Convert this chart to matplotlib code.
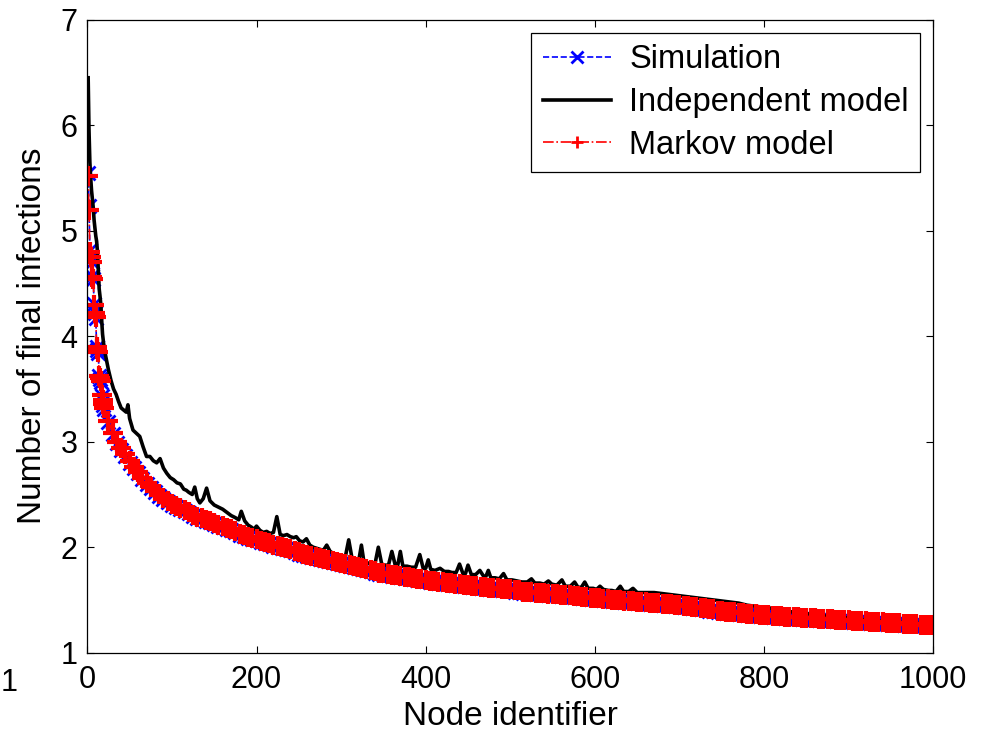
#################################
# Final infections per node: simulation vs. independent / Markov model
#################################
import numpy as np
import matplotlib
matplotlib.use('Agg')
import matplotlib.pyplot as plt

plt.rcParams['font.family'] = ['Liberation Sans', 'DejaVu Sans']

####################### DATA #######################
# nodes sorted by number of final infections
model_nodes = np.concatenate([np.arange(1, 21), np.arange(25, 1001, 5)])

markov_vals = [
    5.52, 5.20, 4.80, 4.75, 4.70, 4.56, 4.54, 4.30, 4.22, 4.18,
    3.90, 3.88, 3.85, 3.62, 3.60, 3.58, 3.44, 3.40, 3.36, 3.32,
    3.20, 3.08, 3.00, 2.94, 2.88, 2.82, 2.76, 2.71, 2.66, 2.61,
    2.57, 2.53, 2.50, 2.47, 2.44, 2.41, 2.39, 2.37, 2.35, 2.33,
    2.31, 2.29, 2.28, 2.26, 2.25, 2.23, 2.21, 2.20, 2.18, 2.17,
    2.15, 2.13, 2.12, 2.10, 2.09, 2.08, 2.06, 2.05, 2.04, 2.02,
    2.01, 2.00, 1.99, 1.98, 1.96, 1.95, 1.94, 1.93, 1.92, 1.91,
    1.90, 1.89, 1.88, 1.87, 1.86, 1.85, 1.84, 1.83, 1.82, 1.81,
    1.80, 1.79, 1.78, 1.77, 1.76, 1.76, 1.75, 1.74, 1.74, 1.73,
    1.72, 1.72, 1.71, 1.70, 1.70, 1.69, 1.68, 1.68, 1.67, 1.67,
    1.66, 1.66, 1.65, 1.65, 1.64, 1.64, 1.63, 1.63, 1.62, 1.62,
    1.61, 1.61, 1.61, 1.60, 1.60, 1.60, 1.59, 1.59, 1.58, 1.58,
    1.58, 1.57, 1.57, 1.57, 1.56, 1.56, 1.56, 1.55, 1.55, 1.55,
    1.54, 1.54, 1.53, 1.53, 1.52, 1.52, 1.52, 1.51, 1.51, 1.50,
    1.50, 1.50, 1.49, 1.49, 1.49, 1.48, 1.48, 1.48, 1.47, 1.47,
    1.47, 1.46, 1.46, 1.46, 1.45, 1.45, 1.44, 1.44, 1.43, 1.43,
    1.42, 1.42, 1.41, 1.41, 1.40, 1.40, 1.39, 1.39, 1.39, 1.38,
    1.38, 1.37, 1.37, 1.37, 1.36, 1.36, 1.36, 1.35, 1.35, 1.35,
    1.34, 1.34, 1.34, 1.34, 1.33, 1.33, 1.33, 1.33, 1.32, 1.32,
    1.32, 1.32, 1.31, 1.31, 1.31, 1.31, 1.30, 1.30, 1.30, 1.30,
    1.29, 1.29, 1.29, 1.29, 1.28, 1.28, 1.28, 1.28, 1.27, 1.27,
    1.27, 1.27, 1.26, 1.26, 1.26, 1.26]

sim_vals = [
    5.55, 5.23, 4.82, 4.76, 4.70, 4.57, 4.54, 4.31, 4.22, 4.17,
    3.90, 3.87, 3.84, 3.62, 3.59, 3.57, 3.43, 3.39, 3.35, 3.31,
    3.19, 3.07, 2.99, 2.92, 2.86, 2.80, 2.75, 2.70, 2.65, 2.60,
    2.56, 2.52, 2.49, 2.46, 2.43, 2.40, 2.38, 2.36, 2.34, 2.32,
    2.30, 2.28, 2.27, 2.25, 2.24, 2.22, 2.20, 2.19, 2.17, 2.16,
    2.14, 2.12, 2.11, 2.09, 2.08, 2.07, 2.05, 2.04, 2.03, 2.01,
    2.00, 1.99, 1.98, 1.97, 1.95, 1.94, 1.93, 1.92, 1.91, 1.90,
    1.89, 1.88, 1.87, 1.86, 1.85, 1.84, 1.83, 1.82, 1.81, 1.80,
    1.79, 1.78, 1.77, 1.76, 1.75, 1.75, 1.74, 1.73, 1.73, 1.72,
    1.71, 1.71, 1.70, 1.69, 1.69, 1.68, 1.67, 1.67, 1.66, 1.66,
    1.65, 1.65, 1.64, 1.64, 1.63, 1.63, 1.62, 1.62, 1.61, 1.61,
    1.60, 1.60, 1.60, 1.59, 1.59, 1.59, 1.58, 1.58, 1.57, 1.57,
    1.57, 1.56, 1.56, 1.56, 1.55, 1.55, 1.55, 1.54, 1.54, 1.54,
    1.53, 1.53, 1.52, 1.52, 1.51, 1.51, 1.51, 1.50, 1.50, 1.49,
    1.49, 1.49, 1.48, 1.48, 1.48, 1.47, 1.47, 1.47, 1.46, 1.46,
    1.46, 1.45, 1.45, 1.45, 1.44, 1.44, 1.43, 1.43, 1.42, 1.42,
    1.41, 1.41, 1.40, 1.40, 1.39, 1.39, 1.38, 1.38, 1.38, 1.37,
    1.37, 1.36, 1.36, 1.36, 1.35, 1.35, 1.35, 1.34, 1.34, 1.34,
    1.33, 1.33, 1.33, 1.33, 1.32, 1.32, 1.32, 1.32, 1.31, 1.31,
    1.31, 1.31, 1.30, 1.30, 1.30, 1.30, 1.29, 1.29, 1.29, 1.29,
    1.28, 1.28, 1.28, 1.28, 1.27, 1.27, 1.27, 1.27, 1.26, 1.26,
    1.26, 1.26, 1.26, 1.25, 1.25, 1.25]

indep_nodes = [
    1, 2, 3, 4, 5, 6, 7, 8, 9, 10,
    11, 12, 13, 14, 15, 16, 17, 18, 19, 20,
    22, 25, 28, 31, 34, 37, 40, 43, 46, 48,
    50, 54, 58, 62, 66, 70, 74, 78, 82, 86,
    90, 94, 98, 102, 106, 110, 114, 117, 120, 124,
    127, 130, 133, 137, 141, 145, 150, 155, 160, 165,
    170, 175, 179, 182, 186, 190, 194, 197, 200, 204,
    208, 212, 216, 220, 224, 228, 232, 236, 240, 244,
    247, 251, 255, 259, 263, 267, 271, 275, 279, 283,
    287, 291, 295, 300, 305, 309, 313, 318, 321, 324,
    327, 332, 336, 340, 344, 348, 352, 356, 360, 364,
    367, 370, 373, 378, 383, 388, 393, 397, 400, 403,
    406, 411, 417, 422, 427, 431, 436, 440, 444, 447,
    450, 454, 459, 464, 468, 471, 474, 477, 482, 487,
    492, 496, 502, 508, 514, 520, 525, 529, 535, 540,
    545, 549, 555, 561, 565, 571, 576, 580, 584, 588,
    592, 598, 602, 606, 610, 616, 620, 625, 630, 634,
    640, 645, 650, 660, 670, 680, 690, 700, 710, 720,
    730, 740, 750, 760, 770, 780, 790, 800, 810, 820,
    830, 840, 850, 860, 870, 880, 890, 900, 910, 920,
    930, 940, 950, 960, 970, 980, 990, 1000]

indep_vals = [
    6.45, 5.95, 5.65, 5.50, 5.38, 5.30, 5.22, 5.10, 5.02, 4.95,
    4.90, 4.80, 4.62, 4.45, 4.38, 4.30, 4.15, 4.02, 3.95, 3.88,
    3.80, 3.68, 3.58, 3.50, 3.45, 3.38, 3.32, 3.30, 3.28, 3.35,
    3.22, 3.11, 3.08, 3.05, 2.95, 2.86, 2.86, 2.82, 2.80, 2.84,
    2.75, 2.70, 2.66, 2.64, 2.61, 2.60, 2.55, 2.54, 2.52, 2.50,
    2.57, 2.46, 2.42, 2.46, 2.56, 2.44, 2.40, 2.38, 2.36, 2.33,
    2.30, 2.28, 2.26, 2.34, 2.25, 2.21, 2.19, 2.17, 2.20, 2.16,
    2.14, 2.15, 2.13, 2.14, 2.29, 2.12, 2.11, 2.12, 2.10, 2.09,
    2.10, 2.06, 2.05, 2.08, 2.02, 2.00, 1.99, 1.98, 1.97, 2.02,
    1.96, 1.94, 1.93, 1.92, 1.91, 2.07, 1.89, 1.86, 1.88, 2.02,
    1.86, 1.85, 1.84, 1.84, 2.00, 1.84, 1.83, 1.83, 1.96, 1.83,
    1.83, 1.96, 1.82, 1.82, 1.81, 1.81, 1.93, 1.80, 1.80, 1.88,
    1.79, 1.78, 1.80, 1.77, 1.77, 1.76, 1.76, 1.84, 1.75, 1.75,
    1.83, 1.74, 1.74, 1.78, 1.73, 1.72, 1.78, 1.71, 1.71, 1.70,
    1.75, 1.69, 1.69, 1.68, 1.67, 1.67, 1.70, 1.66, 1.66, 1.65,
    1.68, 1.65, 1.64, 1.69, 1.63, 1.63, 1.67, 1.62, 1.62, 1.67,
    1.61, 1.61, 1.60, 1.63, 1.60, 1.59, 1.59, 1.58, 1.63, 1.58,
    1.58, 1.61, 1.57, 1.57, 1.57, 1.56, 1.55, 1.54, 1.53, 1.52,
    1.51, 1.50, 1.49, 1.48, 1.47, 1.45, 1.44, 1.43, 1.42, 1.40,
    1.39, 1.38, 1.37, 1.36, 1.35, 1.34, 1.33, 1.33, 1.32, 1.31,
    1.30, 1.30, 1.29, 1.29, 1.28, 1.28, 1.27, 1.27]

xticks = [0, 200, 400, 600, 800, 1000]
yticks = [1, 2, 3, 4, 5, 6, 7]
#####################################################################

assert len(markov_vals) == len(model_nodes) == len(sim_vals)
assert len(indep_nodes) == len(indep_vals)

####################### PLOT #######################
tickSize = 22
legSize = 23.5
labelSize = 24

fig = plt.figure(figsize=(9.9, 7.31), dpi=100)
ax = fig.add_axes([0.0882, 0.1071, 0.8545, 0.8659])

ax.plot(model_nodes, sim_vals, '--', color='b', lw=1.2,
        marker='x', ms=10, mew=2, label='Simulation')
ax.plot(indep_nodes, indep_vals, '-', color='k', lw=2.6,
        label='Independent model')
ax.plot(model_nodes, markov_vals, '-.', color='r', lw=1.2,
        marker='+', ms=15, mew=3, label='Markov model')

ax.set_xlim(0, 1000)
ax.set_ylim(1, 7)
ax.set_xticks(xticks)
ax.set_yticks(yticks)
ax.tick_params(direction='in', length=5, width=0.8, top=True, right=True,
               labelsize=tickSize)
ax.tick_params(axis='x', pad=9)
ax.tick_params(axis='y', pad=7)
for sp in ax.spines.values():
    sp.set_linewidth(0.9)

ax.set_xlabel('Node identifier', fontsize=labelSize, labelpad=4)
ax.set_ylabel('Number of final infections', fontsize=labelSize)
ax.yaxis.set_label_coords(-0.047, 0.5)

leg = ax.legend(loc='upper right', fontsize=legSize, numpoints=1,
                handlelength=2.1, handletextpad=0.55, labelspacing=0.36,
                borderpad=0.35, borderaxespad=0.4, fancybox=False,
                framealpha=1, edgecolor='k')
leg.get_frame().set_linewidth(0.9)
for h in leg.legend_handles:
    h.set_markersize(9)
    h.set_markeredgewidth(2)

# stray tick label at the left border of the original export
fig.text(0.001, 0.066, '1', fontsize=tickSize, ha='left', va='center')

plt.savefig('out.png', dpi=100)
plt.close('all')
